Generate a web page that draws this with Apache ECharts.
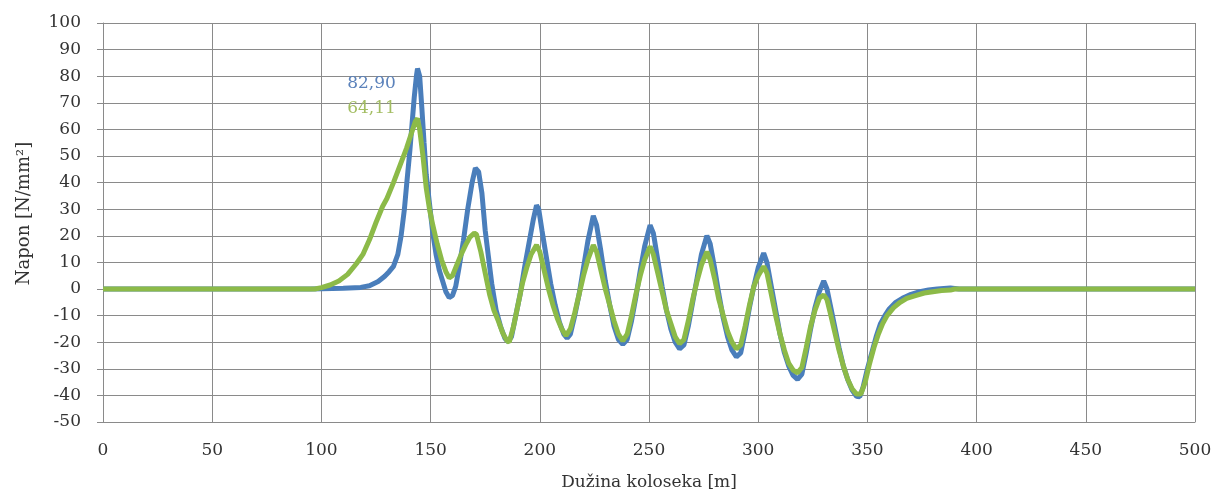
<!DOCTYPE html>
<html>
<head>
<meta charset="utf-8">
<script src="https://cdn.jsdelivr.net/npm/echarts@6/dist/echarts.min.js"></script>
<style>
html,body{margin:0;padding:0;background:#fff;}
#chart{width:1225px;height:499px;}
</style>
</head>
<body>
<div id="chart"></div>
<script>
// ---- Data ----
const xTitle = 'Dužina koloseka [m]';
const yTitle = 'Napon [N/mm²]';
const bluePeak = 82.90;
const greenPeak = 64.11;

const blueX = [0,95,100,110,118,122,126,129,131,133,135,136.5,138,139,140.5,141.5,142.5,143.5,144,145,146,147,148,149.5,151,152.5,154,155.5,157,158.5,160,161.5,163,165,167,169,170.5,172,173.5,175,176.5,178,180,182,184,185.5,187,189,191,193,195,197,198.5,199.5,201,203,205,207,209,211,212.5,214,216,218,220,222,224.5,226,228,230,232,234,236,238,240,242,244,246,248,250.5,252,254,256,258,260,262,264,266,268,270,272,274,276.5,278,280,282,284,286,288,290,292,294,296,298,300,302.5,304,306,308,310,312,314,316,318,320,322,324,326,328,330,331.5,333,335,337,339,341,343,345,346.5,348,350,352,354,356,358,360,363,366,370,374,378,382,388,392,500];
const blueY = [0,0,0.1,0.3,0.6,1.2,2.8,4.8,6.5,8.5,13,20,30,39,52,62,72,80,82.9,80,68,55,43,32,21,13,7,3,-1,-3.2,-2.5,1,8,18,30,40,45.5,44,36,22,12,2,-8,-14,-18.5,-19.8,-18,-10,-2,8,17,26,31.5,30,22,12,2,-6,-12.5,-17,-18.5,-17,-10,-2,8,18,27.5,24,14,3,-6,-14,-19,-20.8,-19,-12,-3,7,16,24,21,11,1,-8,-15,-20,-22.5,-21,-14,-5,4,13,20,17,8,-2,-11,-18,-23,-25.5,-24,-16,-7,1,8,13.5,10,1,-8,-17,-24,-29,-32.5,-34,-32,-24,-15,-7,-1,3,0,-6,-14,-22,-29,-34,-38,-40.3,-40.5,-37,-30,-24,-18,-13,-10,-7.5,-5,-3.5,-2,-1,-0.4,0,0.4,0,0];

const greenX = [0,97,100,104,108,112,116,119,122,125,128,130,133,136,139,141,143,144,145,146.5,148,149.5,151,153,155,157,158.5,160,162,164,166,168,170,171,173,175,177,179,181,183,185,186,188,190,192,194,196,198.5,200,202,204,206,208,210,212,214,216,218,220,222,224.5,226,228,230,232,234,236,238,240,242,244,246,248,250.5,252,254,256,258,260,262,264,266,268,270,272,274,276.5,278,280,282,284,286,288,290,292,294,296,298,300,302.5,304,306,308,310,312,314,316,318,320,322,324,326,328,330,331.5,333,335,337,339,341,343,345,347,349,351,353,355,357,359,362,365,368,372,376,380,384,388,390,500];
const greenY = [0,0,0.5,1.5,3,5.5,9.5,13,18.5,25,31,34,40,46.5,53,58,63,64.11,60,50,38,30,24,17,11,6.5,4.2,5,9,13,16.5,19.5,21,20.5,14,6,-2,-8,-12,-16.5,-19.5,-20,-14,-6,2,8,13,16.5,14,7,0,-6,-11,-15,-17.5,-15,-9,-2,5,11,16.5,14,7,0,-6,-12,-17,-19.5,-17,-10,-2,5,11,16,13,6,-1,-8,-13,-18,-20.5,-19,-12,-4,3,9,14,11,4,-4,-10,-16,-20,-22.5,-21,-14,-6,1,5,8.5,6,-2,-10,-17,-23,-28,-30.5,-31.5,-29.5,-22,-14,-8,-3.5,-2.2,-4,-9,-16,-23,-29,-34,-37.5,-39.5,-39.5,-35,-28,-22,-17,-13,-10,-7,-5,-3.5,-2.5,-1.5,-1,-0.6,-0.4,0,0];

const xTicks = {min: 0, max: 500, interval: 50};
const yTicks = {min: -50, max: 100, interval: 10};

// ---- Chart ----
const fmt = v => v.toFixed(2).replace('.', ',');
const blueData = blueX.map((x, i) => [x, blueY[i]]);
const greenData = greenX.map((x, i) => [x, greenY[i]]);
const blueColor = '#4a7ebb';
const greenColor = '#8cba48';
const gridColor = '#8a8a8a';
const serif = '"DejaVu Serif", "Liberation Serif", serif';

const chart = echarts.init(document.getElementById('chart'));
chart.setOption({
  animation: false,
  backgroundColor: '#ffffff',
  grid: {left: 103, right: 30, top: 23, bottom: 77},
  xAxis: {
    type: 'value',
    min: xTicks.min, max: xTicks.max, interval: xTicks.interval,
    name: xTitle, nameLocation: 'middle', nameGap: 52,
    nameTextStyle: {fontFamily: serif, fontSize: 17, color: '#333'},
    axisLine: {show: true, onZero: false, lineStyle: {color: gridColor, width: 1}},
    axisTick: {show: false},
    axisLabel: {margin: 20, fontFamily: serif, fontSize: 17, color: '#333'},
    splitLine: {show: true, lineStyle: {color: gridColor, width: 1}}
  },
  yAxis: {
    type: 'value',
    min: yTicks.min, max: yTicks.max, interval: yTicks.interval,
    name: yTitle, nameLocation: 'middle', nameGap: 70,
    nameTextStyle: {fontFamily: serif, fontSize: 18, color: '#333', padding: [0, 0, 0, 18]},
    axisLine: {show: true, lineStyle: {color: gridColor, width: 1}},
    axisTick: {show: true, inside: false, length: 6, lineStyle: {color: gridColor}},
    axisLabel: {margin: 22, fontFamily: serif, fontSize: 17, color: '#333'},
    splitLine: {show: true, lineStyle: {color: gridColor, width: 1}}
  },
  series: [
    {
      type: 'line', data: blueData, showSymbol: false, symbol: 'none',
      lineStyle: {color: blueColor, width: 5}, itemStyle: {color: blueColor},
      z: 2,
      markPoint: {
        symbol: 'circle', symbolSize: 1, itemStyle: {color: 'rgba(0,0,0,0)'},
        data: [{coord: [144, bluePeak], value: bluePeak}],
        label: {show: true, formatter: () => fmt(bluePeak), offset: [-46, 15],
          fontFamily: serif, fontSize: 17, color: '#5b82bb'}
      }
    },
    {
      type: 'line', data: greenData, showSymbol: false, symbol: 'none',
      lineStyle: {color: greenColor, width: 5}, itemStyle: {color: greenColor},
      z: 3,
      markPoint: {
        symbol: 'circle', symbolSize: 1, itemStyle: {color: 'rgba(0,0,0,0)'},
        data: [{coord: [144, greenPeak], value: greenPeak}],
        label: {show: true, formatter: () => fmt(greenPeak), offset: [-46, -10],
          fontFamily: serif, fontSize: 17, color: '#a3bd62'}
      }
    }
  ]
});
</script>
</body>
</html>
